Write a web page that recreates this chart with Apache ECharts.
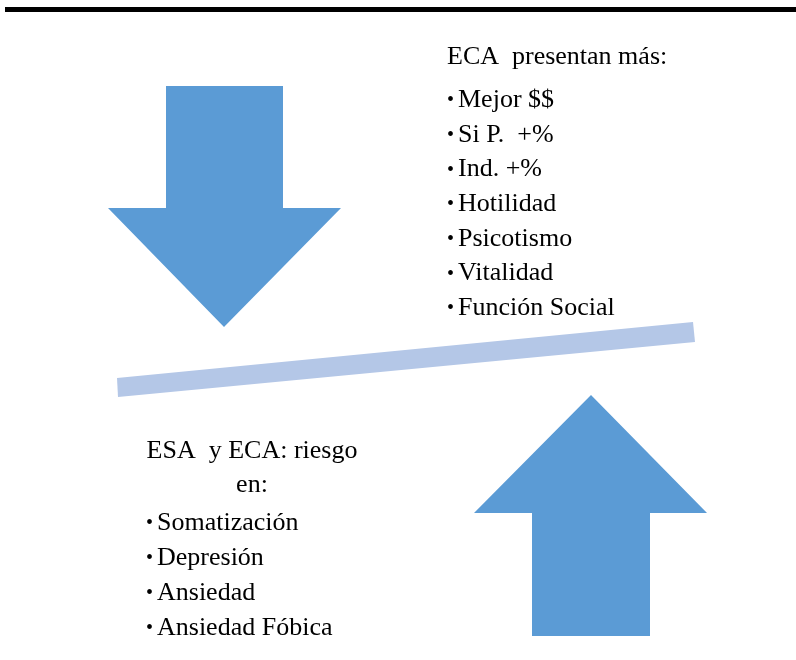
<!DOCTYPE html>
<html>
<head>
<meta charset="utf-8">
<script src="https://cdn.jsdelivr.net/npm/echarts@6.0.0/dist/echarts.min.js"></script>
<style>
  html, body { margin: 0; padding: 0; background: #fff; }
  #chart { width: 796px; height: 660px; }
</style>
</head>
<body>
<div id="chart"></div>
<script>
// ── 文字内容 ──
var topHeading = 'ECA  presentan más:';
var topItems = ['Mejor $$', 'Si P.  +%', 'Ind. +%', 'Hotilidad', 'Psicotismo', 'Vitalidad', 'Función Social'];
var bottomHeading = ['ESA  y ECA: riesgo', 'en:'];
var bottomItems = ['Somatización', 'Depresión', 'Ansiedad', 'Ansiedad Fóbica'];

var FONT = '26px "Liberation Serif", "Times New Roman", serif';
var BULLET_FONT = '20px "Liberation Serif", "Times New Roman", serif';
var ARROW = '#5b9bd5';
var BEAM = '#b4c7e7';

function textEl(str, x, y, align, font) {
    return {
        type: 'text',
        x: x, y: y,
        style: { text: str, font: font || FONT, fill: '#000', align: align || 'left', verticalAlign: 'middle' }
    };
}

function bulletList(items, x0, y0, step) {
    var els = [];
    items.forEach(function (s, i) {
        var y = y0 + i * step;
        els.push(textEl('•', x0, y + 1, 'left', BULLET_FONT));
        els.push(textEl(s, x0 + 11, y));
    });
    return els;
}

var graphics = [
    // 顶部黑线
    { type: 'rect', shape: { x: 5, y: 7, width: 791, height: 5 }, style: { fill: '#000' } },
    // 下箭头
    { type: 'polygon', shape: { points: [[166, 86], [283, 86], [283, 208], [341, 208], [224, 327], [108, 208], [166, 208]] }, style: { fill: ARROW } },
    // 上箭头
    { type: 'polygon', shape: { points: [[591, 395], [707, 513], [650, 513], [650, 636], [532, 636], [532, 513], [474, 513]] }, style: { fill: ARROW } },
    // 横梁
    { type: 'polygon', shape: { points: [[117, 378], [693, 322], [695, 342], [118, 397]] }, style: { fill: BEAM } },
    textEl(topHeading, 447, 57)
];

graphics = graphics.concat(bulletList(topItems, 447, 100, 34.7));
graphics.push(textEl(bottomHeading[0], 252, 451, 'center'));
graphics.push(textEl(bottomHeading[1], 252, 485, 'center'));
graphics = graphics.concat(bulletList(bottomItems, 146, 523, 35));

var chart = echarts.init(document.getElementById('chart'));
chart.setOption({
    animation: false,
    backgroundColor: '#fff',
    graphic: { elements: graphics }
});

window.addEventListener('resize', function () { chart.resize(); });
</script>
</body>
</html>
